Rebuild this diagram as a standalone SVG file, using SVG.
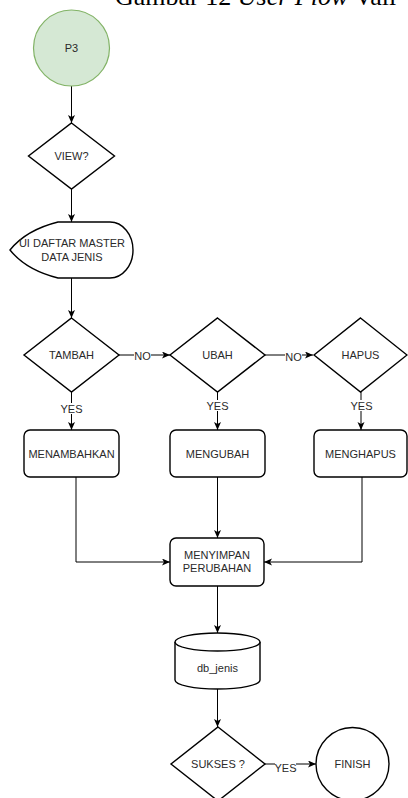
<svg xmlns="http://www.w3.org/2000/svg" width="408" height="798" viewBox="0 0 408 798">
  <style>
    .shape { fill: #ffffff; stroke: #000000; stroke-width: 1.4; }
    .edge { fill: none; stroke: #000000; stroke-width: 1; marker-end: url(#arrow); }
    .lbl { font-family: "Liberation Sans", Arial, sans-serif; font-size: 11px; fill: #2a2a2a; text-anchor: middle; }
    .elbl { font-family: "Liberation Sans", Arial, sans-serif; font-size: 11px; fill: #2a2a2a; text-anchor: middle; }
    .lblbg { fill: #ffffff; }
    .caption { font-family: "Liberation Serif", "Times New Roman", serif; font-size: 26px; fill: #000000; }
  </style>
  <defs>
    <marker id="arrow" markerUnits="userSpaceOnUse" markerWidth="9" markerHeight="8" refX="8" refY="3.5" orient="auto">
      <path d="M0,0 L8,3.5 L0,7 L2,3.5 Z" fill="#000000"/>
    </marker>
  </defs>

  <rect width="408" height="798" fill="#ffffff"/>

  <!-- caption, partly outside the top edge -->
  <text class="caption" x="115" y="5">Gambar 12 <tspan font-style="italic">User Flow</tspan> Vali</text>

  <!-- connectors -->
  <g id="connectors">
    <path class="edge" d="M71.5,86 L71.5,123"/>
    <path class="edge" d="M71.5,189 L71.5,222"/>
    <path class="edge" d="M71.5,278 L71.5,318"/>
    <path class="edge" d="M119,355 L170,355"/>
    <path class="edge" d="M265,355 L313,355"/>
    <path class="edge" d="M71.5,392 L71.5,430"/>
    <path class="edge" d="M217.5,392 L217.5,430"/>
    <path class="edge" d="M361,392 L361,430"/>
    <path class="edge" d="M76,477 L76,562 L170,562"/>
    <path class="edge" d="M217.5,477 L217.5,538"/>
    <path class="edge" d="M362,477 L362,562 L264,562"/>
    <path class="edge" d="M217.5,586 L217.5,633"/>
    <path class="edge" d="M217.5,689 L217.5,727"/>
    <path class="edge" d="M265,764 L316,764"/>

    <!-- edge labels -->
    <rect class="lblbg" x="134" y="350" width="17" height="11"/>
    <text class="elbl" x="142.5" y="360">NO</text>
    <rect class="lblbg" x="285" y="350" width="17" height="11"/>
    <text class="elbl" x="293.5" y="361">NO</text>
    <rect class="lblbg" x="61" y="403" width="21" height="11"/>
    <text class="elbl" x="71.5" y="413">YES</text>
    <rect class="lblbg" x="207" y="400" width="21" height="11"/>
    <text class="elbl" x="217.5" y="410">YES</text>
    <rect class="lblbg" x="351" y="400" width="21" height="11"/>
    <text class="elbl" x="361.5" y="410">YES</text>
    <rect class="lblbg" x="275" y="762" width="21" height="11"/>
    <text class="elbl" x="285.5" y="772">YES</text>
  </g>

  <!-- nodes -->
  <g id="p3">
    <circle cx="71.5" cy="48" r="38" fill="#d5e8d4" stroke="#82b366" stroke-width="1.2"/>
    <text class="lbl" x="71.5" y="52">P3</text>
  </g>

  <g id="view">
    <path class="shape" d="M71.5,123 L114.5,156 L71.5,189 L28.5,156 Z"/>
    <text class="lbl" x="71.5" y="160">VIEW?</text>
  </g>

  <g id="ui-daftar">
    <path class="shape" d="M10,250 Q26,230 58,222 L110,222 A23,28 0 0 1 110,278 L58,278 Q26,270 10,250 Z"/>
    <text class="lbl" x="72" y="247">UI DAFTAR MASTER</text>
    <text class="lbl" x="72" y="261">DATA JENIS</text>
  </g>

  <g id="tambah">
    <path class="shape" d="M71.5,318 L119,355 L71.5,392 L24,355 Z"/>
    <text class="lbl" x="71.5" y="359">TAMBAH</text>
  </g>

  <g id="ubah">
    <path class="shape" d="M217.5,318 L265,355 L217.5,392 L170,355 Z"/>
    <text class="lbl" x="217.5" y="359">UBAH</text>
  </g>

  <g id="hapus">
    <path class="shape" d="M360.5,318 L407,355 L360.5,392 L314,355 Z"/>
    <text class="lbl" x="360.5" y="359">HAPUS</text>
  </g>

  <g id="menambahkan">
    <rect class="shape" x="24" y="430" width="95" height="47" rx="6"/>
    <text class="lbl" x="71.5" y="458">MENAMBAHKAN</text>
  </g>

  <g id="mengubah">
    <rect class="shape" x="170" y="430" width="95" height="47" rx="6"/>
    <text class="lbl" x="217.5" y="458">MENGUBAH</text>
  </g>

  <g id="menghapus">
    <rect class="shape" x="314" y="430" width="93" height="47" rx="6"/>
    <text class="lbl" x="360.5" y="458">MENGHAPUS</text>
  </g>

  <g id="menyimpan">
    <rect class="shape" x="170" y="538" width="94" height="48" rx="6"/>
    <text class="lbl" x="217" y="559">MENYIMPAN</text>
    <text class="lbl" x="217" y="572">PERUBAHAN</text>
  </g>

  <g id="db-jenis">
    <path class="shape" d="M175,642 A42.5,9 0 0 1 260,642 L260,680 A42.5,9 0 0 1 175,680 Z"/>
    <path class="shape" fill="none" d="M175,642 A42.5,9 0 0 0 260,642"/>
    <text class="lbl" x="217.5" y="672">db_jenis</text>
  </g>

  <g id="sukses">
    <path class="shape" d="M218,727 L265,764 L218,801 L171,764 Z"/>
    <text class="lbl" x="218" y="768">SUKSES ?</text>
  </g>

  <g id="finish">
    <circle class="shape" cx="352.5" cy="764" r="36.5"/>
    <text class="lbl" x="352.5" y="768">FINISH</text>
  </g>
</svg>
